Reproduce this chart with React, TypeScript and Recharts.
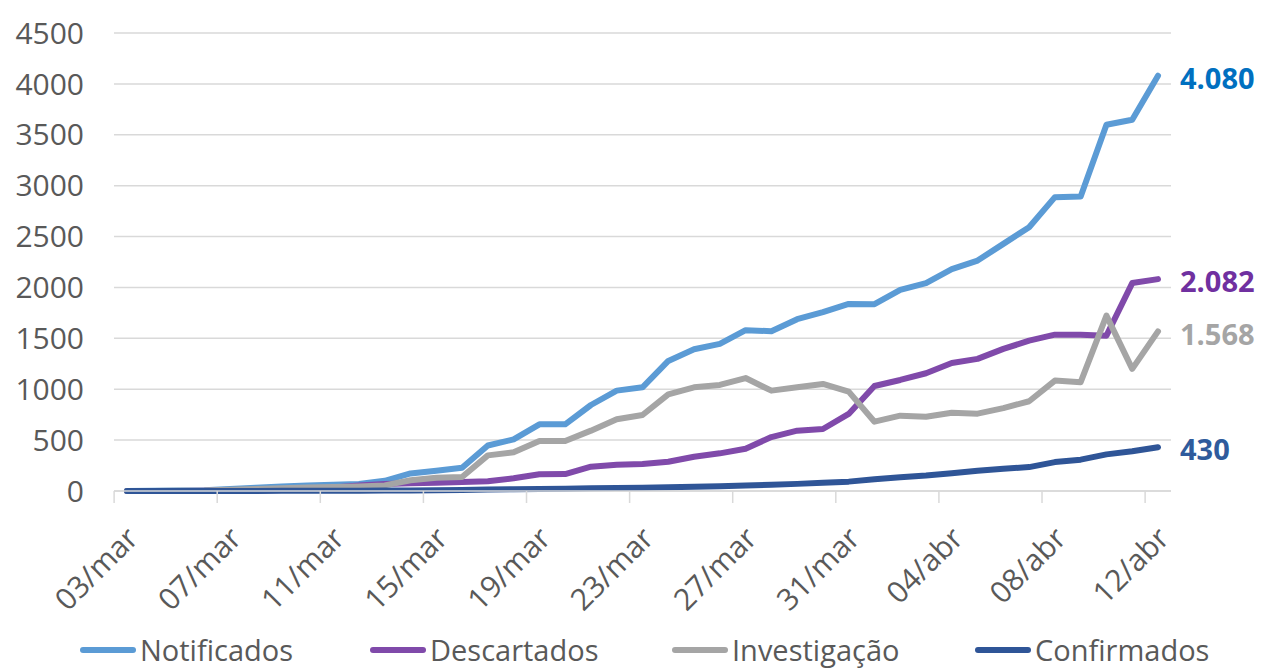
import { LineChart, Line, XAxis, YAxis, CartesianGrid, Legend } from "recharts";

const dates = [
  "03/mar", "04/mar", "05/mar", "06/mar", "07/mar", "08/mar", "09/mar", "10/mar",
  "11/mar", "12/mar", "13/mar", "14/mar", "15/mar", "16/mar", "17/mar", "18/mar",
  "19/mar", "20/mar", "21/mar", "22/mar", "23/mar", "24/mar", "25/mar", "26/mar",
  "27/mar", "28/mar", "29/mar", "30/mar", "31/mar", "01/abr", "02/abr", "03/abr",
  "04/abr", "05/abr", "06/abr", "07/abr", "08/abr", "09/abr", "10/abr", "11/abr",
  "12/abr",
];

const notificados = [
  1, 2, 4, 8, 20, 32, 45, 55, 62, 70, 100, 173, 200, 229, 447, 507, 655, 655, 845, 986,
  1019, 1278, 1393, 1446, 1580, 1570, 1688, 1757, 1838, 1836, 1976, 2042, 2180, 2264,
  2428, 2592, 2887, 2893, 3598, 3647, 4080,
];
const descartados = [
  0, 0, 1, 2, 4, 6, 10, 15, 35, 55, 70, 75, 80, 88, 95, 125, 164, 166, 239, 259, 265,
  288, 337, 370, 415, 530, 593, 609, 757, 1032, 1091, 1157, 1258, 1298, 1396, 1477,
  1536, 1536, 1526, 2043, 2082,
];
const investigacao = [
  0, 1, 2, 4, 12, 20, 28, 34, 40, 45, 55, 105, 130, 138, 350, 380, 492, 491, 593, 705,
  747, 950, 1019, 1042, 1110, 986, 1019, 1052, 976, 681, 740, 730, 768, 760, 814, 882,
  1085, 1069, 1723, 1200, 1568,
];
const confirmados = [
  0, 0, 0, 1, 1, 1, 2, 2, 2, 3, 4, 6, 8, 11, 15, 18, 20, 23, 27, 30, 33, 38, 42, 47, 55,
  62, 70, 80, 92, 115, 135, 152, 175, 200, 219, 235, 284, 308, 360, 390, 430,
];

const yTicks = [0, 500, 1000, 1500, 2000, 2500, 3000, 3500, 4000, 4500];

const series = [
  { key: "Notificados", values: notificados, color: "#5b9bd5", labelColor: "#0070c0" },
  { key: "Descartados", values: descartados, color: "#804aaa", labelColor: "#7030a0" },
  { key: "Investigação", values: investigacao, color: "#a5a5a5", labelColor: "#a5a5a5" },
  { key: "Confirmados", values: confirmados, color: "#2f5597", labelColor: "#2f5b9c" },
];

const data = dates.map((d, i) => {
  const row: Record<string, string | number> = { date: d };
  series.forEach((s) => (row[s.key] = s.values[i]));
  return row;
});

const FONT = "'Open Sans', 'Noto Sans', sans-serif";
const W = 1263;
const H = 669;
const Y_AXIS_W = 114;
const MARGIN_R = 92;
const PAD = 13;
const STEP = (W - Y_AXIS_W - MARGIN_R - 2 * PAD) / (dates.length - 1);
const LEGEND_W = [290, 302, 303, 240];

// pt-BR thousands separator
function fmt(v: number) {
  return String(v).replace(/\B(?=(\d{3})+(?!\d))/g, ".");
}

function DateTick(props: any) {
  const { x, y, payload } = props;
  const tx = x + 13;
  const ty = y + 49;
  return (
    <g>
      <line x1={x - STEP / 2} x2={x - STEP / 2} y1={y} y2={y + 12} stroke="#d9d9d9" strokeWidth={1.5} />
      <text
        x={tx}
        y={ty}
        textAnchor="end"
        transform={`rotate(-45 ${tx} ${ty})`}
        fill="#595959"
        fontSize={30}
        fontFamily={FONT}
      >
        {payload.value}
      </text>
    </g>
  );
}

function endLabel(color: string) {
  return (props: any) => {
    const { x, y, index, value } = props;
    if (index !== dates.length - 1) return null;
    return (
      <text
        x={x + 22}
        y={y + 3}
        dy="0.35em"
        fill={color}
        fontSize={29}
        fontWeight="bold"
        fontFamily={FONT}
      >
        {fmt(value)}
      </text>
    );
  };
}

function renderLegend() {
  return (
    <div
      style={{
        display: "flex",
        paddingLeft: 80,
        fontFamily: FONT,
        fontSize: 29,
        lineHeight: "38px",
        color: "#595959",
      }}
    >
      {series.map((s, i) => (
        <div key={s.key} style={{ display: "flex", alignItems: "center", width: LEGEND_W[i] }}>
          <svg width={56} height={10}>
            <line x1={3} x2={53} y1={5} y2={5} stroke={s.color} strokeWidth={6} strokeLinecap="round" />
          </svg>
          <span style={{ marginLeft: 4 }}>{s.key}</span>
        </div>
      ))}
    </div>
  );
}

export default function App() {
  return (
    <div style={{ position: "absolute", left: 0, top: 0 }}>
      <LineChart width={W} height={H} data={data} margin={{ top: 33, right: MARGIN_R, bottom: 0, left: 0 }}>
        <CartesianGrid vertical={false} stroke="#d9d9d9" strokeWidth={1.5} />
        <XAxis
          dataKey="date"
          interval={3}
          height={140}
          padding={{ left: PAD, right: PAD }}
          axisLine={{ stroke: "#d9d9d9", strokeWidth: 1.5 }}
          tickLine={false}
          tickSize={0}
          tickMargin={0}
          tick={<DateTick />}
        />
        <YAxis
          width={Y_AXIS_W}
          domain={[0, 4500]}
          ticks={yTicks}
          axisLine={false}
          tickLine={false}
          tickSize={0}
          tickMargin={30}
          tick={{ fill: "#595959", fontSize: 30, fontFamily: FONT }}
        />
        <Legend
          verticalAlign="bottom"
          content={renderLegend}
          wrapperStyle={{ left: 0, width: W }}
        />
        {series.map((s) => (
          <Line
            key={s.key}
            type="linear"
            dataKey={s.key}
            stroke={s.color}
            strokeWidth={6}
            strokeLinecap="round"
            strokeLinejoin="round"
            dot={false}
            isAnimationActive={false}
            label={endLabel(s.labelColor)}
          />
        ))}
      </LineChart>
    </div>
  );
}
